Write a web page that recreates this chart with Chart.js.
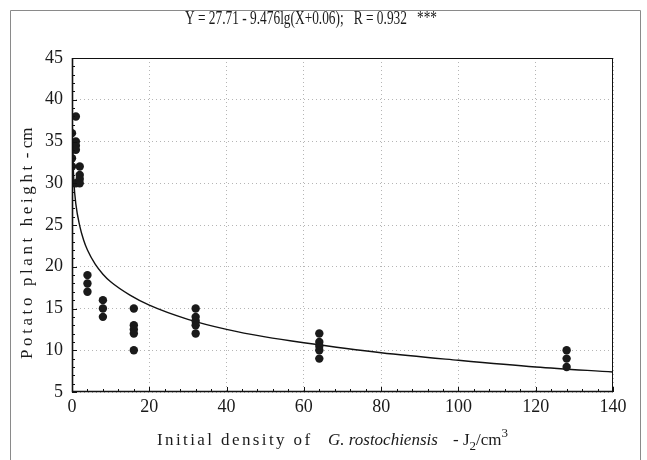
<!DOCTYPE html>
<html>
<head>
<meta charset="utf-8">
<script src="https://cdn.jsdelivr.net/npm/chart.js@4/dist/chart.umd.min.js"></script>
<style>
  html, body { margin: 0; padding: 0; background: #fff; }
  #wrap { width: 647px; height: 460px; position: relative; }
</style>
</head>
<body>
<div id="wrap"><canvas id="c" width="647" height="460"></canvas></div>
<script>
'use strict';

// ── Data ──────────────────────────────────────────────────────────────────────

const density0   = [36, 34, 33, 32, 30];
const density1   = [38, 35, 34.5, 34, 30];
const density2   = [32, 31, 30.5, 30];
const density4   = [19, 18, 17];
const density8   = [16, 15, 14];
const density16  = [15, 13, 12.5, 12, 10];
const density32  = [15, 14, 13.5, 13, 12];
const density64  = [12, 11, 10.5, 10, 9];
const density128 = [10, 9, 8];

// fitted curve, sampled from the drawn line
const curveX = [0, 0.1, 0.25, 0.5, 1, 2, 3, 4, 6, 8, 10, 15, 20, 30, 40, 50, 60, 80, 100, 120, 140];
const curveY = [39.3, 35.2, 32.9, 30.1, 27.5, 24.9, 23.2, 22.0, 20.3, 19.1, 18.2, 16.6, 15.4, 13.7, 12.5, 11.6, 10.9, 9.7, 8.8, 8.0, 7.4];

const xTicks = [0, 20, 40, 60, 80, 100, 120, 140];
const yTicks = [5, 10, 15, 20, 25, 30, 35, 40, 45];

const titleText = 'Y = 27.71 - 9.476lg(X+0.06);   R = 0.932   ***';
const yTitle = 'Potato plant height';
const yTitleUnit = '- cm';

// ── Helpers ───────────────────────────────────────────────────────────────────

const SERIF = "'Liberation Serif', 'DejaVu Serif', serif";

function column(x, values) {
  return values.map(v => ({ x, y: v }));
}

const points = [
  ...column(0, density0), ...column(1, density1), ...column(2, density2),
  ...column(4, density4), ...column(8, density8), ...column(16, density16),
  ...column(32, density32), ...column(64, density64), ...column(128, density128),
];

const curve = curveX.map((x, i) => ({ x, y: curveY[i] }));

// ── Decorations: frame, inward ticks, titles ──────────────────────────────────

const decor = {
  id: 'decor',
  afterDraw(chart) {
    const { ctx, chartArea: a, scales: { x, y } } = chart;
    ctx.save();

    // outer page frame
    ctx.strokeStyle = '#8a8a8a';
    ctx.lineWidth = 1;
    ctx.beginPath();
    ctx.moveTo(10.5, 460);
    ctx.lineTo(10.5, 10.5);
    ctx.lineTo(640.5, 10.5);
    ctx.lineTo(640.5, 460);
    ctx.stroke();

    // plot frame
    ctx.strokeStyle = '#111';
    ctx.lineWidth = 1;
    ctx.strokeRect(a.left + 0.5, a.top + 0.5, a.right - a.left - 1, a.bottom - a.top - 1);
    ctx.lineWidth = 1.6;
    ctx.beginPath();
    ctx.moveTo(a.left + 0.5, a.top);
    ctx.lineTo(a.left + 0.5, a.bottom - 0.5);
    ctx.lineTo(a.right, a.bottom - 0.5);
    ctx.stroke();

    // inward tick marks
    ctx.lineWidth = 1;
    ctx.beginPath();
    for (let v = 5; v <= 45; v += 1) {
      const py = Math.round(y.getPixelForValue(v)) + 0.5;
      const len = v % 5 === 0 ? 5 : 3;
      ctx.moveTo(a.left, py);
      ctx.lineTo(a.left + len, py);
    }
    for (let v = 0; v <= 140; v += 4) {
      const px = Math.round(x.getPixelForValue(v)) + 0.5;
      ctx.moveTo(px, a.bottom);
      ctx.lineTo(px, a.bottom - 3);
    }
    for (const v of xTicks) {
      const px = Math.round(x.getPixelForValue(v)) + 0.5;
      ctx.moveTo(px, a.bottom);
      ctx.lineTo(px, a.bottom - 5);
    }
    ctx.stroke();

    ctx.fillStyle = '#1a1a1a';

    // top equation, condensed like the original
    ctx.font = `18px ${SERIF}`;
    ctx.textBaseline = 'alphabetic';
    ctx.textAlign = 'left';
    const tw = ctx.measureText(titleText).width;
    const target = 252;
    ctx.save();
    ctx.translate(185, 24);
    ctx.scale(target / tw, 1);
    ctx.fillText(titleText, 0, 0);
    ctx.restore();

    // x axis title with italic species name, subscript and superscript
    let cx = 157;
    const base = 445;
    ctx.font = `17px ${SERIF}`;
    ctx.letterSpacing = '2.4px';
    ctx.fillText('Initial density of', cx, base);
    ctx.letterSpacing = '0px';
    cx = 328;
    ctx.font = `italic 17px ${SERIF}`;
    ctx.fillText('G. rostochiensis', cx, base);
    cx = 453;
    ctx.font = `17px ${SERIF}`;
    ctx.fillText('- J', cx, base);
    cx += ctx.measureText('- J').width;
    ctx.font = `13px ${SERIF}`;
    ctx.fillText('2', cx, base + 5);
    cx += ctx.measureText('2').width;
    ctx.font = `17px ${SERIF}`;
    ctx.fillText('/cm', cx, base);
    cx += ctx.measureText('/cm').width;
    ctx.font = `13px ${SERIF}`;
    ctx.fillText('3', cx, base - 8);

    // y axis title, rotated
    ctx.save();
    ctx.translate(32, 359);
    ctx.rotate(-Math.PI / 2);
    ctx.font = `17px ${SERIF}`;
    ctx.letterSpacing = '3.6px';
    ctx.fillText(yTitle, 0, 0);
    const yw = ctx.measureText(yTitle).width;
    ctx.letterSpacing = '0px';
    ctx.fillText(yTitleUnit, yw + 4, 0);
    ctx.restore();

    ctx.restore();
  },
};

// ── Chart ─────────────────────────────────────────────────────────────────────

Chart.defaults.font.family = SERIF;
Chart.defaults.color = '#1a1a1a';

new Chart(document.getElementById('c'), {
  type: 'scatter',
  data: {
    datasets: [
      {
        data: points,
        order: 0,
        pointRadius: 4.2,
        pointHoverRadius: 4.2,
        pointBackgroundColor: '#1a1a1a',
        pointBorderWidth: 0,
      },
      {
        data: curve,
        order: 1,
        showLine: true,
        pointRadius: 0,
        borderColor: '#111',
        borderWidth: 1.4,
        cubicInterpolationMode: 'monotone',
      },
    ],
  },
  options: {
    responsive: false,
    animation: false,
    events: [],
    layout: { padding: { left: 0, top: 58, right: 34, bottom: 0 } },
    plugins: { legend: { display: false }, tooltip: { enabled: false } },
    scales: {
      x: {
        type: 'linear',
        min: 0,
        max: 140,
        afterFit: s => { s.height = 68; },
        afterBuildTicks: s => { s.ticks = xTicks.map(v => ({ value: v })); },
        border: { display: false, dash: [1, 3] },
        grid: { color: '#b5b5b5', lineWidth: 1, drawTicks: false },
        ticks: { font: { size: 18 }, padding: 4, maxRotation: 0, autoSkip: false, color: '#1a1a1a' },
      },
      y: {
        type: 'linear',
        min: 5,
        max: 45,
        afterFit: s => { s.width = 72; },
        afterBuildTicks: s => { s.ticks = yTicks.map(v => ({ value: v })); },
        border: { display: false, dash: [1, 3] },
        grid: { color: '#b5b5b5', lineWidth: 1, drawTicks: false },
        ticks: { font: { size: 18 }, padding: 9, autoSkip: false, color: '#1a1a1a' },
      },
    },
  },
  plugins: [decor],
});
</script>
</body>
</html>
